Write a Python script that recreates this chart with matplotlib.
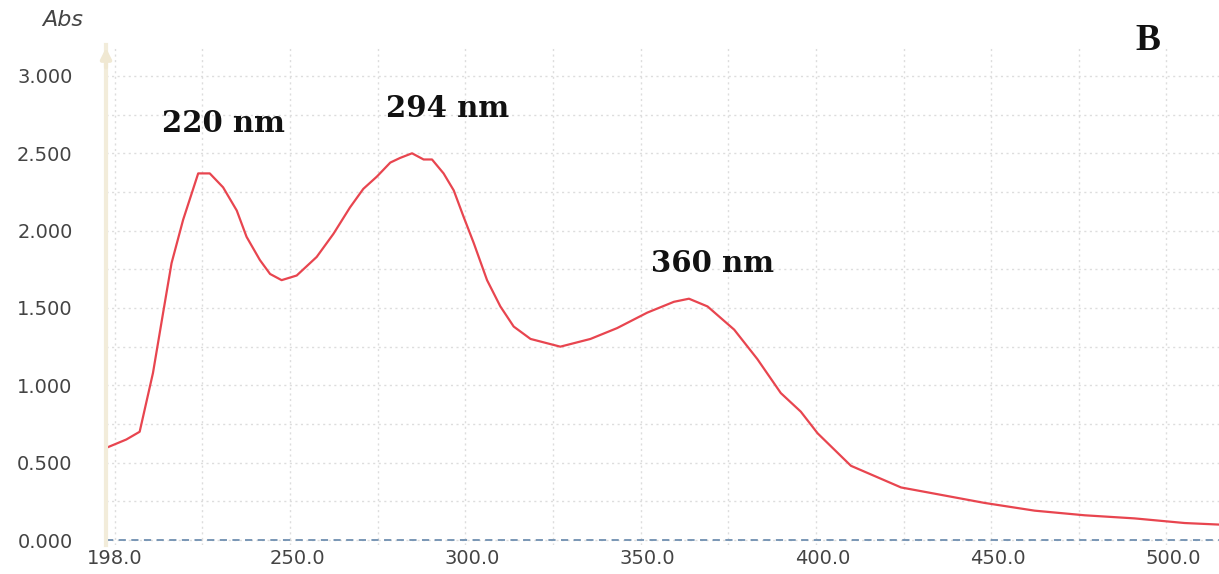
import matplotlib.pyplot as plt
import matplotlib.transforms as mtransforms
from matplotlib.ticker import MultipleLocator, FixedLocator

# spectrum
wavelength = [198.0, 203.3, 207.1, 210.9, 213.8, 216.2, 219.5, 223.8, 227.1, 230.9,
              234.8, 237.6, 241.4, 244.3, 247.6, 251.9, 257.6, 262.4, 267.1, 270.9,
              274.8, 278.6, 281.4, 284.8, 288.1, 290.5, 293.8, 296.7, 299.5, 302.4,
              306.2, 310.0, 313.8, 318.6, 327.1, 335.7, 343.3, 351.9, 359.5, 363.8,
              369.1, 376.7, 383.3, 390.0, 395.7, 400.5, 410.0, 424.3, 438.6, 448.1,
              462.4, 476.7, 490.9, 505.2, 515.0]
absorbance = [0.60, 0.65, 0.70, 1.08, 1.47, 1.79, 2.07, 2.37, 2.37, 2.28,
              2.13, 1.96, 1.81, 1.72, 1.68, 1.71, 1.83, 1.98, 2.15, 2.27,
              2.35, 2.44, 2.47, 2.50, 2.46, 2.46, 2.37, 2.26, 2.09, 1.92,
              1.68, 1.51, 1.38, 1.30, 1.25, 1.30, 1.37, 1.47, 1.54, 1.56,
              1.51, 1.36, 1.17, 0.95, 0.83, 0.69, 0.48, 0.34, 0.28, 0.24,
              0.19, 0.16, 0.14, 0.11, 0.10]

x_ticks = [198.0, 250.0, 300.0, 350.0, 400.0, 450.0, 500.0]
y_ticks = [0.0, 0.5, 1.0, 1.5, 2.0, 2.5, 3.0]

peak_labels = ["220 nm", "294 nm", "360 nm"]
peak_x = [231.0, 295.0, 370.5]
peak_y = [2.69, 2.79, 1.79]

fig = plt.figure(figsize=(12.19, 5.74), dpi=100)
ax = fig.add_axes([106 / 1219, 29 / 574, 1 - 106 / 1219, 500 / 574])

ax.plot(wavelength, absorbance, color="#e8454f", lw=1.6)
ax.axhline(0, color="#6f8fb0", lw=1.3, ls=(0, (4, 3)))

ax.set_xlim(197.5, 515)
ax.set_ylim(-0.032, 3.2)

ax.xaxis.set_major_locator(FixedLocator(x_ticks))
ax.yaxis.set_major_locator(FixedLocator(y_ticks))
ax.set_xticklabels([f"{v:.1f}" for v in x_ticks])
ax.set_yticklabels([f"{v:.3f}" for v in y_ticks])
ax.xaxis.set_minor_locator(MultipleLocator(25))
ax.yaxis.set_minor_locator(MultipleLocator(0.25))
ax.xaxis.remove_overlapping_locs = False
ax.yaxis.remove_overlapping_locs = False
ax.grid(False, which="major")
ax.grid(True, which="minor", color="#dddddd", ls=(0, (1.5, 2.5)), lw=1.0)
ax.tick_params(which="both", length=0)
ax.tick_params(axis="y", pad=24, labelsize=14, labelcolor="#444444")
ax.tick_params(axis="x", pad=3, labelsize=14, labelcolor="#444444")

offset = mtransforms.ScaledTranslation(7 / 100, 0, fig.dpi_scale_trans)
for lab in ax.get_xticklabels():
    lab.set_transform(lab.get_transform() + offset)

for s in ["top", "right", "bottom"]:
    ax.spines[s].set_visible(False)
ax.spines["left"].set_color("#f2ecda")
ax.spines["left"].set_linewidth(3)
ax.annotate("", xy=(0, 1.0), xytext=(0, 0.95), xycoords="axes fraction",
            arrowprops=dict(arrowstyle="-|>,head_length=0.6,head_width=0.3",
                            color="#f0e8d2", lw=3), annotation_clip=False)

for lab, px, py in zip(peak_labels, peak_x, peak_y):
    ax.text(px, py, lab, ha="center", va="center", fontsize=21, fontweight="bold",
            family="DejaVu Serif", color="#111111")

fig.text(1148 / 1219, 1 - 40 / 574, "B", ha="center", va="center", fontsize=27,
         fontweight="bold", family="Liberation Serif", color="#111111")
fig.text(63 / 1219, 1 - 20 / 574, "Abs", ha="center", va="center", fontsize=16,
         style="italic", color="#444444")

fig.savefig("out.png", dpi=100)
